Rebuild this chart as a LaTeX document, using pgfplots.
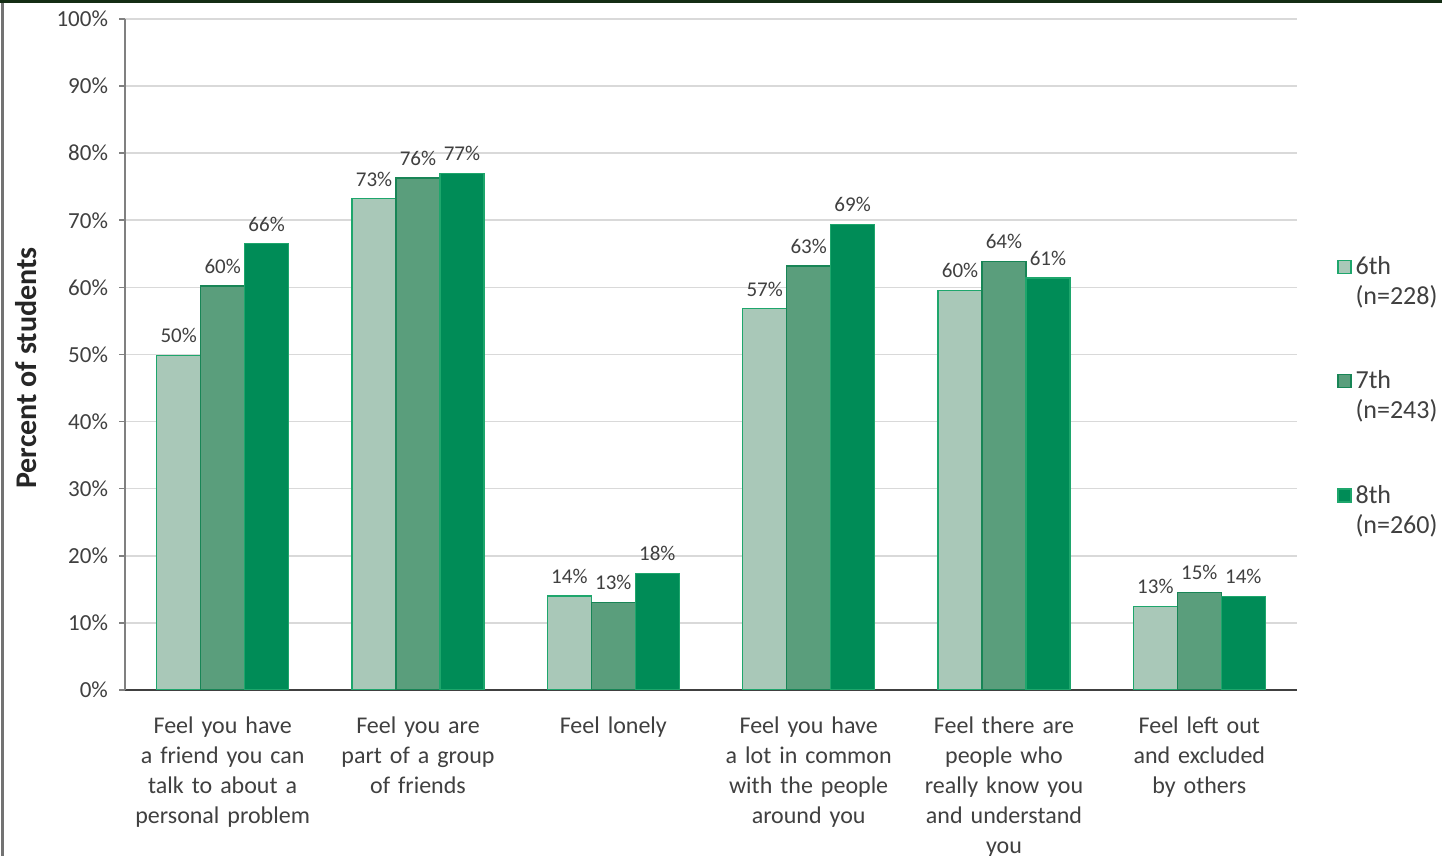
\documentclass[border=0pt]{standalone}
\usepackage{pgfplots}
\pgfplotsset{compat=1.18}
\usepackage{pgfplotstable}
\usepackage{fontspec}
\setmainfont{Carlito}
\definecolor{c6}{HTML}{A9C8B8}
\definecolor{c7}{HTML}{5A9E7C}
\definecolor{c8}{HTML}{008C57}
\definecolor{edge}{HTML}{1EA66C}
\definecolor{txt}{HTML}{404040}
\pgfplotstableread{
x y lab
0 49.9 50
1 73.2 73
2 14.0 14
3 56.8 57
4 59.5 60
5 12.5 13
}\sixth
\pgfplotstableread{
x y lab
0 60.2 60
1 76.3 76
2 13.0 13
3 63.2 63
4 63.9 64
5 14.5 15
}\seventh
\pgfplotstableread{
x y lab
0 66.5 66
1 77.0 77
2 17.4 18
3 69.4 69
4 61.4 61
5 13.9 14
}\eighth
\begin{document}
\begin{tikzpicture}
\useasboundingbox (0pt,0pt) rectangle (721pt,428pt);
\fill[white] (0pt,0pt) rectangle (721pt,428pt);
\draw[line width=1.5pt, color=black!55] (1pt,0pt) -- (1pt,428pt);
\draw[line width=1.5pt, color={rgb,255:red,20;green,45;blue,20}] (0pt,427.25pt) -- (721pt,427.25pt);
\begin{axis}[
  at={(62.5pt,83pt)}, anchor=south west,
  scale only axis, width=586pt, height=335.5pt,
  xmin=-0.5, xmax=5.5, ymin=0, ymax=100,
  ybar=0pt, bar width=0.225,
  axis lines*=left,
  axis line style={-},
  x axis line style={draw=black!75, line width=0.8pt},
  y axis line style={draw=black!50, line width=0.8pt},
  ytick={0,10,...,100},
  yticklabel={\pgfmathprintnumber{\tick}\%},
  /pgf/number format/assume math mode=true,
  ymajorgrids,
  grid style={draw=black!15, line width=0.8pt},
  tick align=outside,
  ytick style={draw=black!50, line width=0.8pt},
  major tick length=3pt,
  xtick={0,1,2,3,4,5},
  xticklabels={
    {Feel you have\\a friend you can\\talk to about a\\personal problem},
    {Feel you are\\part of a group\\of friends},
    {Feel lonely},
    {Feel you have\\a lot in common\\with the people\\around you},
    {Feel there are\\people who\\really know you\\and understand\\you},
    {Feel left out\\and excluded\\by others}},
  x tick style={draw=none},
  extra x ticks={-0.5,0.5,1.5,2.5,3.5,4.5,5.5},
  extra x tick labels={},
  extra x tick style={tick style={draw=black!75, line width=0.8pt}, major tick length=4pt},
  xticklabel style={font=\fontsize{12}{15}\selectfont, text=txt, align=center, text width=110pt, yshift=-7pt},
  yticklabel style={font=\fontsize{11.5}{13}\selectfont, text=txt, xshift=-2pt},
  ylabel={Percent of students},
  every axis y label/.style={at={(axis description cs:-0.0845,0.48)}, rotate=90, anchor=center, font=\fontsize{15}{17}\selectfont\bfseries, text=black!85},
  point meta=explicit symbolic,
  nodes near coords={\pgfplotspointmeta\%},
  every node near coord/.append style={font=\fontsize{10.5}{12}\selectfont, text=txt, inner sep=2pt, yshift=4pt},
  legend style={at={(axis description cs:1.029,0.658)}, anchor=north west, draw=none, fill=none,
    font=\fontsize{13}{15}\selectfont, text=txt, row sep=27.5pt, cells={align=left, anchor=west}},
  legend cell align=left,
  legbox/.style={legend image code/.code={\draw[##1, line width=0.6pt] (0pt,4.3pt) rectangle (6.5pt,10.8pt);}},
]
\addplot[fill=c6, draw=edge, line width=0.6pt, legbox] table[x=x, y=y, meta=lab] {\sixth};
\addplot[fill=c7, draw=edge!80!black, line width=0.6pt, legbox] table[x=x, y=y, meta=lab] {\seventh};
\addplot[fill=c8, draw=edge, line width=0.6pt, legbox] table[x=x, y=y, meta=lab] {\eighth};
\legend{{6th\\(n=228)},{7th\\(n=243)},{8th\\(n=260)}}
\end{axis}
\end{tikzpicture}
\end{document}
